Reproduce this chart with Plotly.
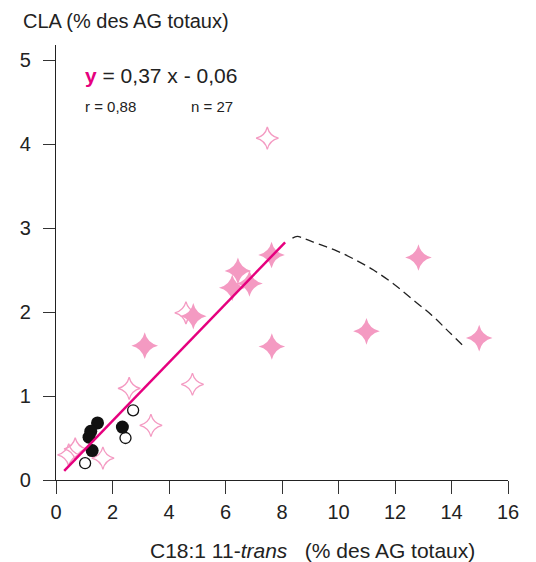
import plotly.graph_objects as go

# Data
open_star_x = [7.48, 4.60, 4.83, 2.59, 3.36, 0.45, 0.68, 1.66]
open_star_y = [4.07, 1.99, 1.14, 1.09, 0.65, 0.30, 0.37, 0.26]
filled_star_x = [7.63, 6.44, 6.24, 6.85, 4.86, 3.14, 7.64, 12.83, 10.99, 14.98]
filled_star_y = [2.68, 2.49, 2.29, 2.34, 1.95, 1.60, 1.59, 2.65, 1.77, 1.69]
open_circle_x = [2.73, 2.46, 1.03]
open_circle_y = [0.83, 0.50, 0.20]
filled_circle_x = [1.47, 1.23, 1.17, 1.28, 2.35]
filled_circle_y = [0.68, 0.58, 0.51, 0.35, 0.63]

reg_x = [0.29, 8.11]
reg_y = [0.11, 2.83]

curve_x = [8.37, 8.54, 8.83, 9.29, 9.86, 10.55, 11.24, 11.93, 12.62, 13.31, 13.89, 14.44]
curve_y = [2.88, 2.90, 2.87, 2.81, 2.74, 2.63, 2.50, 2.34, 2.15, 1.96, 1.77, 1.59]

x_ticks = [0, 2, 4, 6, 8, 10, 12, 14, 16]
y_ticks = [0, 1, 2, 3, 4, 5]

PINK = "#F49AC2"
MAGENTA = "#E6007E"
FONT = "Liberation Sans, Arial, sans-serif"

# page offset of the plot area (body margin 8 px + layout margin)
L, T, PW, PH = 45, 45, 463, 435


def px(x):
    return (x - L) / PW


def py(y):
    return (T + PH - y) / PH


fig = go.Figure()
fig.add_trace(go.Scatter(x=open_star_x, y=open_star_y, mode="markers",
                         marker=dict(symbol="star-diamond-open", size=16, color=PINK,
                                     line=dict(width=1.3, color=PINK))))
fig.add_trace(go.Scatter(x=filled_star_x, y=filled_star_y, mode="markers",
                         marker=dict(symbol="star-diamond", size=19, color=PINK,
                                     line=dict(width=0))))
fig.add_trace(go.Scatter(x=open_circle_x, y=open_circle_y, mode="markers",
                         marker=dict(symbol="circle-open", size=11, color="#111",
                                     line=dict(width=1.3, color="#111"))))
fig.add_trace(go.Scatter(x=filled_circle_x, y=filled_circle_y, mode="markers",
                         marker=dict(symbol="circle", size=13, color="#111",
                                     line=dict(width=0))))
fig.add_trace(go.Scatter(x=reg_x, y=reg_y, mode="lines",
                         line=dict(color=MAGENTA, width=2.5)))
fig.add_trace(go.Scatter(x=curve_x, y=curve_y, mode="lines",
                         line=dict(color="#222", width=1.3, dash="9px,5px", shape="spline",
                                   smoothing=1.0)))

fig.update_layout(
    width=528, height=554,
    margin=dict(l=37, r=28, t=37, b=82),
    paper_bgcolor="white", plot_bgcolor="white",
    showlegend=False,
    font=dict(family=FONT, size=20, color="#222"),
)
fig.update_xaxes(range=[0, 16], tickvals=x_ticks, ticktext=[str(v) for v in x_ticks],
                 showgrid=False, zeroline=False, showline=True, linecolor="#222", linewidth=1.3,
                 ticks="outside", ticklen=13, tickwidth=1.3, tickcolor="#333",
                 tickfont=dict(size=20, color="#222"), ticklabelstandoff=1)
fig.update_yaxes(range=[0, 5.18], tickvals=y_ticks, ticktext=[str(v) for v in y_ticks],
                 showgrid=False, zeroline=False, showline=True, linecolor="#222", linewidth=1.3,
                 ticks="outside", ticklen=12, tickwidth=1.3, tickcolor="#333",
                 tickfont=dict(size=20, color="#222"), ticklabelstandoff=8)

fig.add_annotation(xref="paper", yref="paper", x=px(9), y=py(21), xanchor="left", yanchor="middle",
                   text="CLA (% des AG totaux)", showarrow=False, font=dict(size=20, color="#222"))
fig.add_annotation(xref="paper", yref="paper", x=px(308), y=py(550), xanchor="center", yanchor="middle",
                   text="C18:1 11-<i>trans</i>   (% des AG totaux)", showarrow=False,
                   font=dict(size=21, color="#222"))
fig.add_annotation(xref="paper", yref="paper", x=px(73), y=py(75), xanchor="left", yanchor="middle",
                   text=f"<b><span style='color:{MAGENTA}'>y</span></b> = 0,37 x - 0,06", showarrow=False,
                   font=dict(size=21, color="#222"))
fig.add_annotation(xref="paper", yref="paper", x=px(73), y=py(106), xanchor="left", yanchor="middle",
                   text="r = 0,88", showarrow=False, font=dict(size=15, color="#222"))
fig.add_annotation(xref="paper", yref="paper", x=px(181), y=py(106), xanchor="left", yanchor="middle",
                   text="n = 27", showarrow=False, font=dict(size=15, color="#222"))

fig.write_html("out.html")
